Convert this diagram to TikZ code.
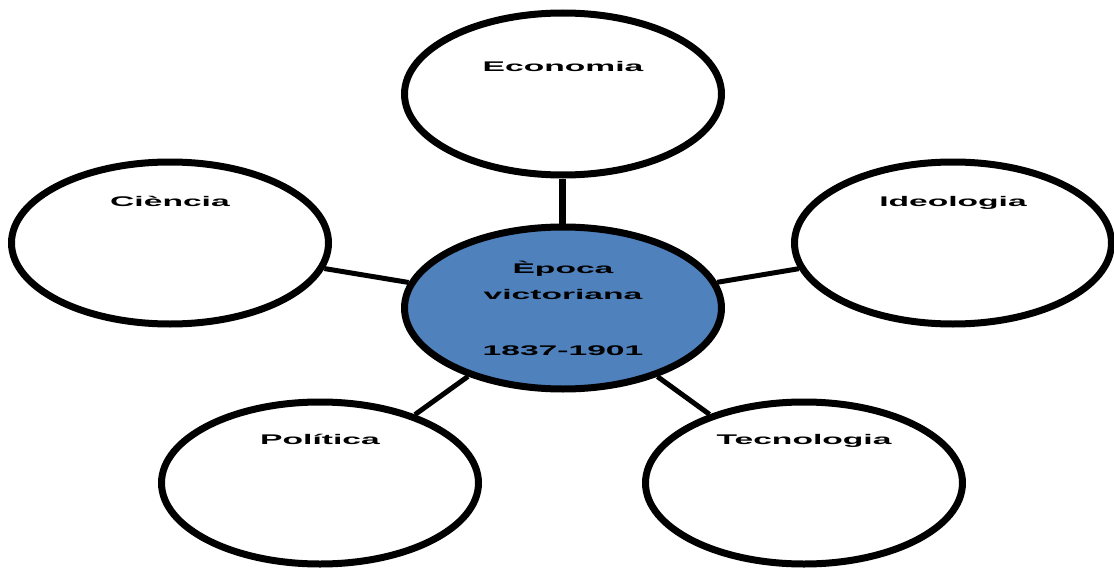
\documentclass[tikz,border=0pt]{standalone}
\usepackage{fontspec}
\newfontfamily\widesans[FakeStretch=2.4]{Liberation Sans Bold}
\usetikzlibrary{positioning,shapes.geometric}
\definecolor{victblue}{RGB}{79,129,189}
\tikzset{
topic/.style={
  ellipse,
  draw=black,
  line width=3.5pt,
  fill=white,
  minimum width=158.5pt,
  minimum height=81pt,
  inner sep=0pt,
  font=\widesans\fontsize{7pt}{13pt}\selectfont
  },
centre/.style={topic,fill=victblue,align=center},
tag/.style={font=\widesans\fontsize{7pt}{13pt}\selectfont},
toplabel/.style 2 args={label={[tag,anchor=mid,yshift=-#2]north:#1}},
link/.style={line width=2.5pt}
}

\begin{document}
\begin{tikzpicture}

\useasboundingbox (-281.5pt,-130pt) rectangle (275.5pt,154pt);

\node[centre] (epoca) at (0,0) {Època\\victoriana\\[15pt]1837-1901};

\node[topic,above=22.5pt of epoca,
    toplabel={Economia}{29pt}] (economia) {};

\node[topic,toplabel={Ciència}{21.75pt}]
at (-196.5pt,32.5pt) (ciencia) {};

\node[topic,toplabel={Ideologia}{21.75pt}]
at (195pt,32.5pt) (ideologia) {};

\node[topic,toplabel={Política}{20.75pt}]
at (-121.5pt,-87.5pt) (politica) {};

\node[topic,toplabel={Tecnologia}{20.75pt}]
at (120.5pt,-87.5pt) (tecnologia) {};

\draw[link,line width=3.5pt] (epoca) -- (economia);
\foreach \t in {ciencia,ideologia,politica,tecnologia}
  \draw[link] (epoca) -- (\t);

\end{tikzpicture}
\end{document}
